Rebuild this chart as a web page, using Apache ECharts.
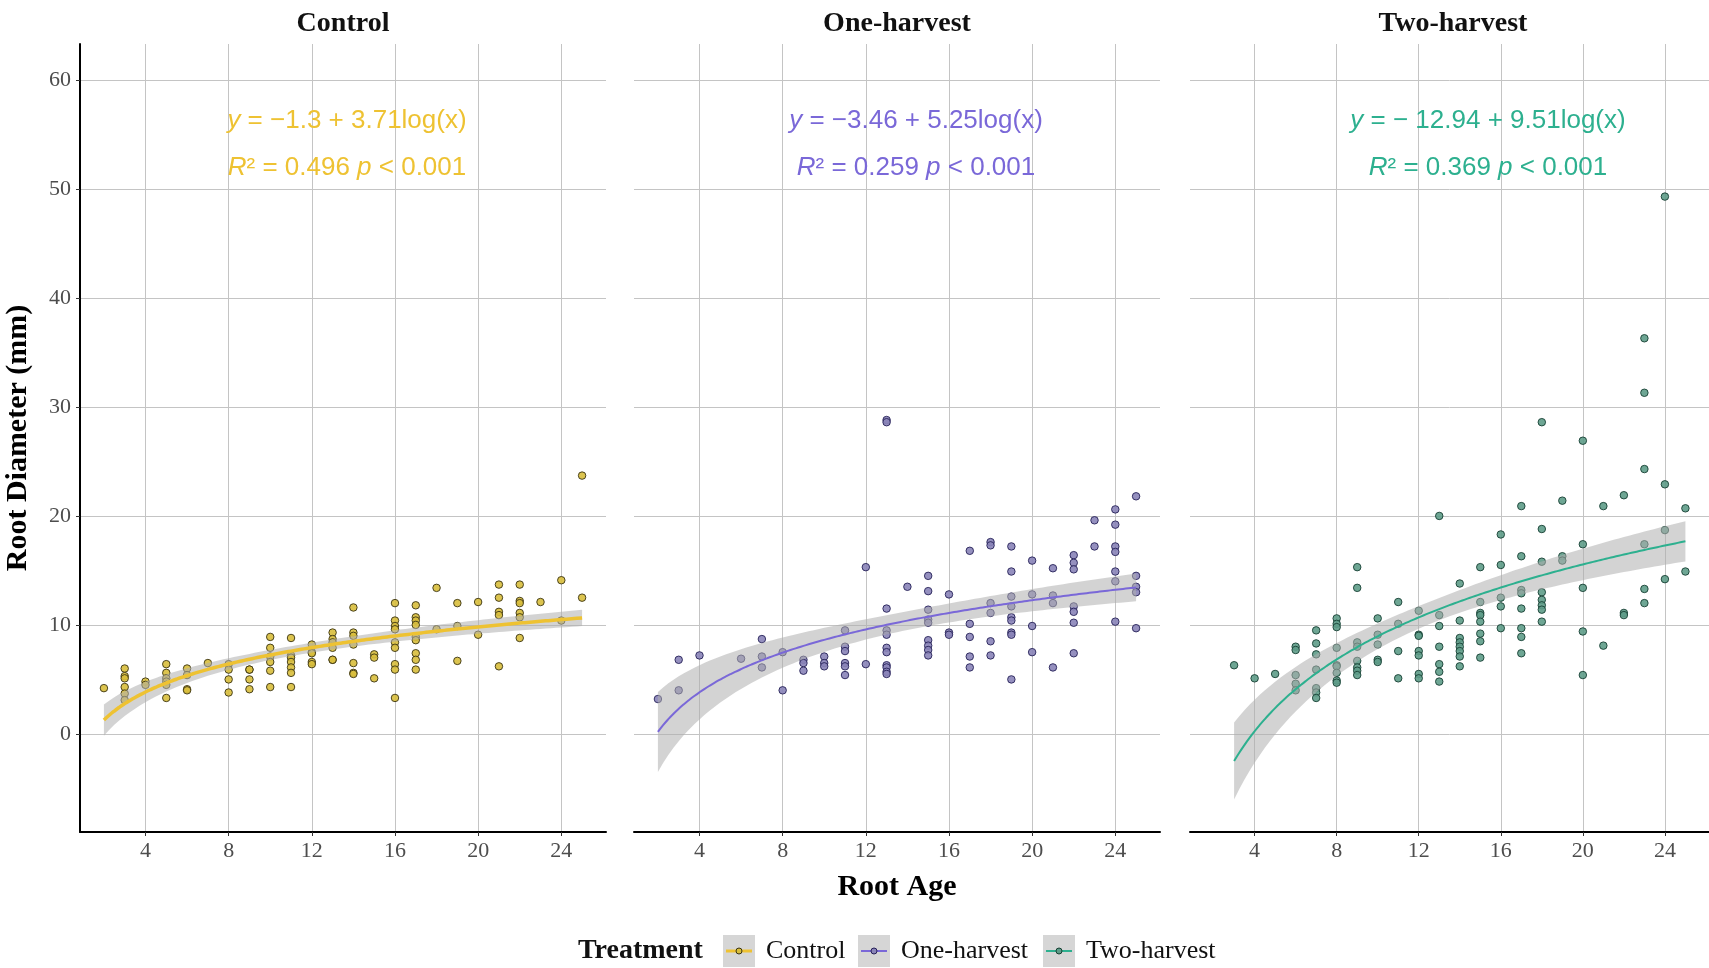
<!DOCTYPE html>
<html>
<head>
  <meta charset="UTF-8">
  <title>Root diameter by root age</title>
  <script src="https://cdn.jsdelivr.net/npm/echarts@6/dist/echarts.min.js"></script>
  <style>
    html, body { margin: 0; padding: 0; background: #fff; }
    #chart { width: 1709px; height: 968px; }
  </style>
</head>
<body>
<div id="chart"></div>
<script>
  // ===== data: [root age, root diameter (mm)] =====
  const panelNames = ['Control', 'One-harvest', 'Two-harvest'];
  const lineColors = ['#EEC232', '#7A68D8', '#2DB08F'];
  const pointFills = ['#D8BE3C', '#8A84B8', '#5E9C88'];
  const pointEdges = ['#3A3312', '#262158', '#163F33'];

  // log fits printed on the panels: y = a + b*log(x)
  const fitIntercepts = [-1.3, -3.46, -12.94];
  const fitSlopes = [3.71, 5.25, 9.51];
  const fitR2 = ['0.496', '0.259', '0.369'];

  const controlPoints = [
    [2, 4.2],
    [3, 6.0], [3, 5.3], [3, 5.1], [3, 4.3], [3, 3.7], [3, 3.1],
    [4, 4.8], [4, 4.5],
    [5, 6.4], [5, 5.6], [5, 5.1], [5, 4.8], [5, 4.5], [5, 3.3],
    [6, 6.0], [6, 5.4], [6, 4.1], [6, 4.0],
    [7, 6.5],
    [8, 6.4], [8, 5.9], [8, 5.0], [8, 3.8],
    [9, 5.9], [9, 5.9], [9, 5.0], [9, 4.1],
    [10, 8.9], [10, 7.9], [10, 7.1], [10, 6.6], [10, 5.8], [10, 4.3],
    [11, 8.8], [11, 7.2], [11, 7.0], [11, 6.6], [11, 6.1], [11, 5.6], [11, 4.3],
    [12, 8.2], [12, 7.5], [12, 7.4], [12, 6.6], [12, 6.4],
    [13, 9.3], [13, 8.7], [13, 8.4], [13, 7.9], [13, 6.8], [13, 6.8],
    [14, 11.6], [14, 9.3], [14, 9.0], [14, 8.2], [14, 6.5], [14, 5.6], [14, 5.5],
    [15, 7.3], [15, 7.0], [15, 5.1],
    [16, 12.0], [16, 10.4], [16, 9.9], [16, 9.6], [16, 8.4], [16, 7.9], [16, 6.4], [16, 5.9], [16, 3.3],
    [17, 11.8], [17, 10.7], [17, 10.4], [17, 10.0], [17, 8.9], [17, 8.6], [17, 7.4], [17, 6.8], [17, 5.9],
    [18, 13.4], [18, 9.6],
    [19, 12.0], [19, 9.9], [19, 6.7],
    [20, 12.1], [20, 9.1],
    [21, 13.7], [21, 12.5], [21, 11.2], [21, 10.9], [21, 6.2],
    [22, 13.7], [22, 12.2], [22, 12.0], [22, 11.1], [22, 10.7], [22, 8.8],
    [23, 12.1],
    [24, 14.1], [24, 10.4],
    [25, 12.5], [25, 23.7]
  ];

  const oneHarvestPoints = [
    [2, 3.2],
    [3, 6.8], [3, 4.0],
    [4, 7.2],
    [6, 6.9],
    [7, 8.7], [7, 7.1], [7, 6.1],
    [8, 7.5], [8, 4.0],
    [9, 6.8], [9, 6.5], [9, 5.8],
    [10, 7.1], [10, 6.5], [10, 6.2],
    [11, 9.5], [11, 8.0], [11, 7.6], [11, 6.5], [11, 6.2], [11, 5.4],
    [12, 15.3], [12, 6.4],
    [13, 28.8], [13, 28.6], [13, 11.5], [13, 9.5], [13, 9.1], [13, 7.9], [13, 7.5], [13, 6.3], [13, 6.1], [13, 5.7], [13, 5.5],
    [14, 13.5],
    [15, 14.5], [15, 13.1], [15, 11.4], [15, 10.5], [15, 10.2], [15, 8.6], [15, 8.1], [15, 7.7], [15, 7.2],
    [16, 12.8], [16, 9.3], [16, 9.1],
    [17, 16.8], [17, 10.1], [17, 8.9], [17, 7.1], [17, 6.1],
    [18, 17.6], [18, 17.3], [18, 12.0], [18, 11.1], [18, 8.5], [18, 7.2],
    [19, 17.2], [19, 14.9], [19, 12.6], [19, 11.7], [19, 10.7], [19, 10.4], [19, 9.3], [19, 9.1], [19, 5.0],
    [20, 15.9], [20, 12.8], [20, 9.9], [20, 7.5],
    [21, 15.2], [21, 12.7], [21, 12.0], [21, 6.1],
    [22, 16.4], [22, 15.7], [22, 15.1], [22, 11.7], [22, 11.2], [22, 10.2], [22, 7.4],
    [23, 19.6], [23, 17.2],
    [24, 20.6], [24, 19.2], [24, 17.2], [24, 16.7], [24, 14.9], [24, 14.0], [24, 10.3],
    [25, 21.8], [25, 14.5], [25, 13.5], [25, 13.0], [25, 9.7]
  ];

  const twoHarvestPoints = [
    [3, 6.3],
    [4, 5.1],
    [5, 5.5],
    [6, 8.0], [6, 7.7], [6, 5.4], [6, 4.6], [6, 4.0],
    [7, 9.5], [7, 8.3], [7, 7.3], [7, 5.9], [7, 4.2], [7, 3.8], [7, 3.3],
    [8, 10.6], [8, 10.1], [8, 9.8], [8, 7.9], [8, 6.3], [8, 6.2], [8, 5.6], [8, 4.9], [8, 4.7],
    [9, 15.3], [9, 13.4], [9, 8.4], [9, 8.0], [9, 6.7], [9, 6.1], [9, 5.8], [9, 5.4],
    [10, 10.6], [10, 9.1], [10, 8.2], [10, 6.8], [10, 6.6],
    [11, 12.1], [11, 10.1], [11, 7.6], [11, 5.1],
    [12, 11.3], [12, 9.1], [12, 9.0], [12, 7.6], [12, 7.2], [12, 5.5], [12, 5.1],
    [13, 20.0], [13, 10.9], [13, 9.9], [13, 8.0], [13, 6.4], [13, 5.7], [13, 4.8],
    [14, 13.8], [14, 10.4], [14, 8.8], [14, 8.4], [14, 8.0], [14, 7.6], [14, 7.1], [14, 6.2],
    [15, 15.3], [15, 12.1], [15, 11.1], [15, 10.9], [15, 10.3], [15, 9.2], [15, 8.5], [15, 7.0],
    [16, 18.3], [16, 15.5], [16, 12.5], [16, 11.7], [16, 9.7],
    [17, 20.9], [17, 16.3], [17, 13.2], [17, 12.9], [17, 11.5], [17, 9.7], [17, 8.9], [17, 7.4],
    [18, 28.6], [18, 18.8], [18, 15.8], [18, 13.0], [18, 12.3], [18, 11.8], [18, 11.4], [18, 10.3],
    [19, 21.4], [19, 16.3], [19, 15.9],
    [20, 26.9], [20, 17.4], [20, 13.4], [20, 9.4], [20, 5.4],
    [21, 20.9], [21, 8.1],
    [22, 21.9], [22, 11.1], [22, 10.9],
    [23, 36.3], [23, 31.3], [23, 24.3], [23, 17.4], [23, 13.3], [23, 12.0],
    [24, 49.3], [24, 22.9], [24, 18.7], [24, 14.2],
    [25, 20.7], [25, 14.9]
  ];

  const xTicks = [4, 8, 12, 16, 20, 24];
  const yTicks = [0, 10, 20, 30, 40, 50, 60];

  const panelPoints = [controlPoints, oneHarvestPoints, twoHarvestPoints];

  // ===== fitted curve and 95% band of the lm on log(x) =====
  function fitCurve(points, a, b) {
    const lx = points.map(p => Math.log(p[0]));
    const n = lx.length;
    const mean = lx.reduce((s, v) => s + v, 0) / n;
    const sxx = lx.reduce((s, v) => s + (v - mean) * (v - mean), 0);
    const ssr = points.reduce((s, p, i) => {
      const r = p[1] - (a + b * lx[i]);
      return s + r * r;
    }, 0);
    const sigma = Math.sqrt(ssr / (n - 2));
    const t = 1.98;
    const ages = points.map(p => p[0]);
    const x0 = Math.min(...ages), x1 = Math.max(...ages);
    const line = [], band = [];
    for (let x = x0; x <= x1 + 1e-9; x += 0.25) {
      const l = Math.log(x);
      const yhat = a + b * l;
      const se = sigma * Math.sqrt(1 / n + (l - mean) * (l - mean) / sxx);
      line.push([x, yhat]);
      band.push([x, yhat - t * se, yhat + t * se]);
    }
    return { line, band };
  }

  const fits = panelPoints.map((pts, i) => fitCurve(pts, fitIntercepts[i], fitSlopes[i]));

  // ===== layout =====
  const gridLefts = [80, 634, 1190];
  const gridWidth = 526;
  const gridTop = 44;
  const gridHeight = 788;
  const serif = 'Liberation Serif';
  const sans = 'Liberation Sans';

  const chart = echarts.init(document.getElementById('chart'), null, {renderer: 'canvas'});

  const grids = gridLefts.map(l => ({left: l, top: gridTop, width: gridWidth, height: gridHeight, containLabel: false}));

  const xAxes = gridLefts.map((l, i) => ({
    type: 'value', gridIndex: i, min: 0.85, max: 26.15,
    name: i === 1 ? 'Root Age' : '',
    nameLocation: 'middle', nameGap: 40,
    nameTextStyle: {fontFamily: serif, fontWeight: 'bold', fontSize: 30, color: '#000'},
    axisLine: {show: true, onZero: false, lineStyle: {color: '#000', width: 2}},
    axisTick: {show: true, length: 4, customValues: xTicks, lineStyle: {color: '#333'}},
    axisLabel: {customValues: xTicks, margin: 8, fontFamily: serif, fontSize: 22, color: '#4D4D4D'},
    splitLine: {show: true, lineStyle: {color: '#C4C4C4', width: 1}}
  }));

  const yAxes = gridLefts.map((l, i) => ({
    type: 'value', gridIndex: i, min: -9, max: 63.3,
    name: i === 0 ? 'Root Diameter (mm)' : '',
    nameLocation: 'middle', nameGap: 47,
    nameTextStyle: {fontFamily: serif, fontWeight: 'bold', fontSize: 30, color: '#000'},
    axisLine: {show: i === 0, lineStyle: {color: '#000', width: 2}},
    axisTick: {show: i === 0, length: 4, customValues: yTicks, lineStyle: {color: '#333'}},
    axisLabel: {show: i === 0, customValues: yTicks, margin: 9, fontFamily: serif, fontSize: 22, color: '#4D4D4D'},
    splitLine: {show: true, lineStyle: {color: '#C4C4C4', width: 1}}
  }));

  const series = [];
  panelPoints.forEach((pts, i) => {
    series.push({
      type: 'scatter', name: panelNames[i], xAxisIndex: i, yAxisIndex: i,
      data: pts, symbolSize: 7.5, z: 2,
      itemStyle: {color: pointFills[i], borderColor: pointEdges[i], borderWidth: 1, opacity: 0.9}
    });
    series.push({
      type: 'custom', xAxisIndex: i, yAxisIndex: i, z: 3, silent: true,
      data: fits[i].band, encode: {x: 0, y: [1, 2]},
      renderItem: function (params, api) {
        if (params.dataIndex !== 0) return null;
        const band = fits[i].band;
        const upper = band.map(d => api.coord([d[0], d[2]]));
        const lower = band.map(d => api.coord([d[0], d[1]])).reverse();
        return {
          type: 'polygon',
          shape: {points: upper.concat(lower)},
          style: {fill: 'rgba(175,175,175,0.55)'}
        };
      }
    });
    series.push({
      type: 'line', xAxisIndex: i, yAxisIndex: i, z: 4,
      data: fits[i].line, showSymbol: false, smooth: true, silent: true,
      lineStyle: {color: lineColors[i], width: i === 0 ? 3.5 : 2}
    });
  });

  // ===== text: panel strips, equations, legend =====
  const graphics = [];
  const eqCenters = [347, 916, 1488];
  const eqTerms = ['−1.3 + 3.71', '−3.46 + 5.25', '− 12.94 + 9.51'];
  gridLefts.forEach((l, i) => {
    graphics.push({
      type: 'text', x: l + gridWidth / 2, y: 24,
      style: {text: panelNames[i], font: 'bold 28px "Liberation Serif"', fill: '#111', align: 'center', verticalAlign: 'middle'}
    });
    const rich = {i: {fontStyle: 'italic', fontFamily: sans, fontSize: 26, fill: lineColors[i]}};
    graphics.push({
      type: 'text', x: eqCenters[i], y: 121, z: 10,
      style: {
        text: '{i|y} = ' + eqTerms[i] + 'log(x)', rich: rich,
        fontFamily: sans, fontSize: 26, fill: lineColors[i], align: 'center', verticalAlign: 'middle'
      }
    });
    graphics.push({
      type: 'text', x: eqCenters[i], y: 168, z: 10,
      style: {
        text: '{i|R}² = ' + fitR2[i] + ' {i|p} < 0.001', rich: rich,
        fontFamily: sans, fontSize: 26, fill: lineColors[i], align: 'center', verticalAlign: 'middle'
      }
    });
  });

  const legendY = 951;
  graphics.push({
    type: 'text', x: 578, y: legendY,
    style: {text: 'Treatment', font: 'bold 28px "Liberation Serif"', fill: '#111', verticalAlign: 'middle'}
  });
  const keyLefts = [723, 858, 1043];
  keyLefts.forEach((kx, i) => {
    graphics.push({type: 'rect', shape: {x: kx, y: legendY - 16, width: 32, height: 32}, style: {fill: '#D6D6D6'}});
    graphics.push({type: 'line', shape: {x1: kx + 3, y1: legendY, x2: kx + 29, y2: legendY},
      style: {stroke: lineColors[i], lineWidth: i === 0 ? 3 : 2}});
    graphics.push({type: 'circle', shape: {cx: kx + 16, cy: legendY, r: 3},
      style: {fill: pointFills[i], stroke: pointEdges[i], lineWidth: 1}});
    graphics.push({
      type: 'text', x: kx + 43, y: legendY,
      style: {text: panelNames[i], font: '26px "Liberation Serif"', fill: '#111', verticalAlign: 'middle'}
    });
  });

  chart.setOption({
    backgroundColor: '#fff',
    animation: false,
    grid: grids,
    xAxis: xAxes,
    yAxis: yAxes,
    series: series,
    graphic: graphics
  });
</script>
</body>
</html>
